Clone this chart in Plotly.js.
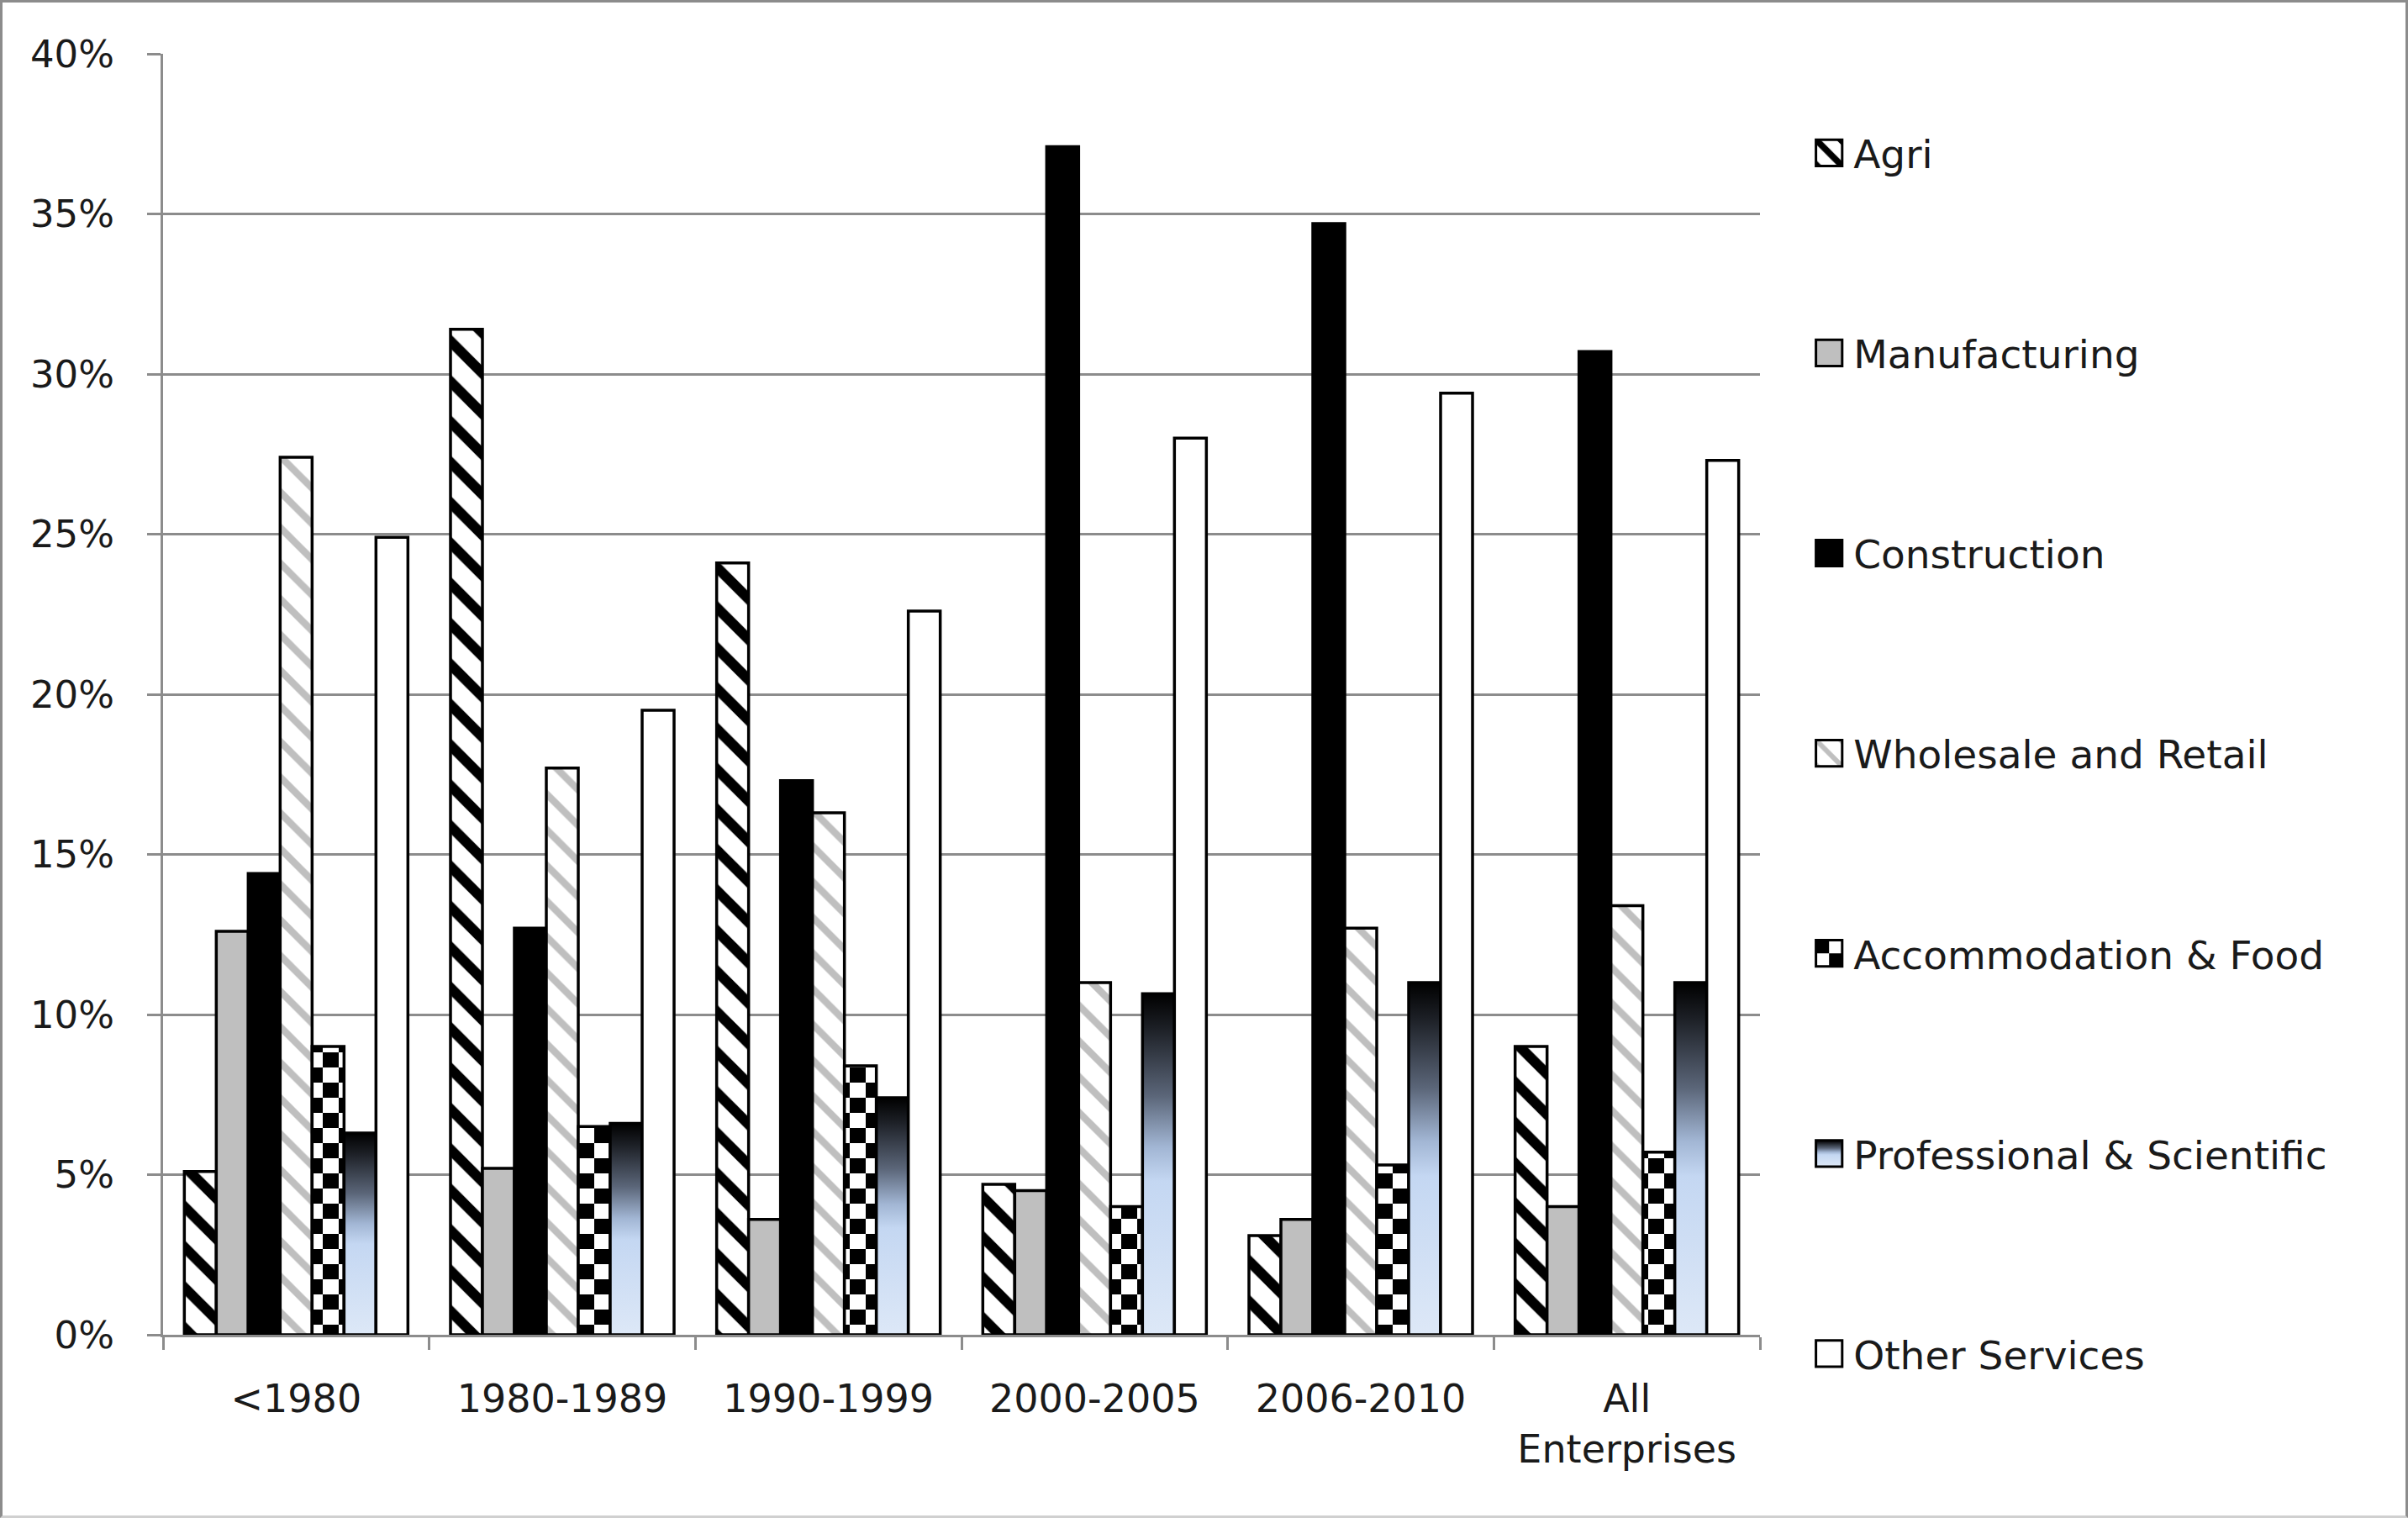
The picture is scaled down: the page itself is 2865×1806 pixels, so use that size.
<!DOCTYPE html>
<html>
<head>
<meta charset="utf-8">
<script src="https://cdn.plot.ly/plotly-3.0.1.min.js"></script>
<style>
  body { margin: 0; background: #fff; }
  #wrap { position: relative; width: 2865px; height: 1806px; }
  #chart { width: 2865px; height: 1806px; }
  #frame { position: absolute; left: 0; top: 0; width: 2865px; height: 1806px;
           box-sizing: border-box; border: 3px solid #8c8c8c; border-bottom-color: #d0d0d0;
           pointer-events: none; }
</style>
</head>
<body>
<div id="wrap">
  <div id="chart"></div>
  <div id="frame"></div>
</div>
<script>
// share of enterprises by sector, per founding period (percent)
var categories = ['&lt;1980', '1980-1989', '1990-1999', '2000-2005', '2006-2010', 'All<br>Enterprises'];
var agri = [5.1, 31.4, 24.1, 4.7, 3.1, 9.0];
var manufacturing = [12.6, 5.2, 3.6, 4.5, 3.6, 4.0];
var construction = [14.4, 12.7, 17.3, 37.1, 34.7, 30.7];
var wholesale = [27.4, 17.7, 16.3, 11.0, 12.7, 13.4];
var accommodation = [9.0, 6.5, 8.4, 4.0, 5.3, 5.7];
var professional = [6.3, 6.6, 7.4, 10.65, 11.0, 11.0];
var otherServices = [24.9, 19.5, 22.6, 28.0, 29.4, 27.3];

var outline = {color: '#000', width: 3.5};

function barTrace(name, y, marker, idx) {
    marker.line = outline;
    return {
        type: 'bar',
        name: name,
        x: categories,
        y: y,
        marker: marker,
        legendgroup: 'g' + idx,
        hoverinfo: 'name+y'
    };
}

var data = [
    barTrace('Agri', agri, {color: '#fff',
        pattern: {shape: '\\', fgcolor: '#000', bgcolor: '#fff', size: 34, solidity: 0.36}}, 0),
    barTrace('Manufacturing', manufacturing, {color: '#bfbfbf'}, 1),
    barTrace('Construction', construction, {color: '#000'}, 2),
    barTrace('Wholesale and Retail', wholesale, {color: '#fff',
        pattern: {shape: '\\', fgcolor: '#bfbfbf', bgcolor: '#fff', size: 30, solidity: 0.28}}, 3),
    barTrace('Accommodation &amp; Food', accommodation, {color: '#fff',
        pattern: {shape: '+', fgcolor: '#000', bgcolor: '#fff', size: 36, solidity: 0.5}}, 4),
    barTrace('Professional &amp; Scientific', professional, {color: '#c6d9f1'}, 5),
    barTrace('Other Services', otherServices, {color: '#fff'}, 6)
];

var family = 'DejaVu Sans, Verdana, sans-serif';
var ink = '#1a1a1a';

var layout = {
    width: 2865,
    height: 1806,
    paper_bgcolor: '#fff',
    plot_bgcolor: '#fff',
    font: {family: family, size: 44, color: ink},
    barmode: 'group',
    bargap: 0.16,
    bargroupgap: 0,
    showlegend: true,
    margin: {l: 194, r: 771, t: 64, b: 218, pad: 0},
    xaxis: {
        type: 'category',
        tickson: 'boundaries',
        ticks: 'outside',
        ticklen: 15,
        tickwidth: 3,
        tickcolor: '#8c8c8c',
        showline: true,
        linecolor: '#8c8c8c',
        linewidth: 3,
        showgrid: false,
        zeroline: false,
        ticklabelstandoff: 34,
        tickfont: {family: family, size: 46, color: ink}
    },
    yaxis: {
        range: [0, 40],
        dtick: 5,
        ticksuffix: '%',
        ticks: 'outside',
        ticklen: 16,
        tickwidth: 3,
        tickcolor: '#8c8c8c',
        showline: true,
        linecolor: '#8c8c8c',
        linewidth: 3,
        showgrid: true,
        gridcolor: '#8c8c8c',
        gridwidth: 3,
        zeroline: false,
        ticklabelstandoff: 30,
        tickfont: {family: family, size: 45, color: ink}
    },
    legend: {
        x: 1.028,
        xanchor: 'left',
        y: 0.947,
        yanchor: 'top',
        itemwidth: 48,
        tracegroupgap: 174,
        font: {family: family, size: 47, color: ink},
        bgcolor: 'rgba(0,0,0,0)'
    }
};

// checkerboard and gradient fills that the bar pattern set lacks
function addFills(gd) {
    var svg = gd.querySelector('svg.main-svg');
    if (!svg) return;
    var defs = svg.querySelector('defs');
    var ns = 'http://www.w3.org/2000/svg';
    if (!document.getElementById('profGrad')) {
        var grad = document.createElementNS(ns, 'linearGradient');
        grad.setAttribute('id', 'profGrad');
        grad.setAttribute('x1', '0'); grad.setAttribute('y1', '0');
        grad.setAttribute('x2', '0'); grad.setAttribute('y2', '1');
        [[0, '#000000'], [0.1, '#1c1f25'], [0.3, '#5b6679'], [0.45, '#a2b6d4'],
         [0.55, '#c4d7f2'], [1, '#dde8f7']].forEach(function (s) {
            var st = document.createElementNS(ns, 'stop');
            st.setAttribute('offset', s[0]);
            st.setAttribute('stop-color', s[1]);
            grad.appendChild(st);
        });
        defs.appendChild(grad);

        var pat = document.createElementNS(ns, 'pattern');
        pat.setAttribute('id', 'accChk');
        pat.setAttribute('patternUnits', 'userSpaceOnUse');
        pat.setAttribute('width', '38');
        pat.setAttribute('height', '36');
        [[0, 0, 38, 36, '#fff'], [0, 0, 19, 18, '#000'], [19, 18, 19, 18, '#000']].forEach(function (r) {
            var rc = document.createElementNS(ns, 'rect');
            rc.setAttribute('x', r[0]); rc.setAttribute('y', r[1]);
            rc.setAttribute('width', r[2]); rc.setAttribute('height', r[3]);
            rc.setAttribute('fill', r[4]);
            pat.appendChild(rc);
        });
        defs.appendChild(pat);

        var pat2 = document.createElementNS(ns, 'pattern');
        pat2.setAttribute('id', 'accChkSmall');
        pat2.setAttribute('patternUnits', 'objectBoundingBox');
        pat2.setAttribute('patternContentUnits', 'objectBoundingBox');
        pat2.setAttribute('width', '1');
        pat2.setAttribute('height', '1');
        [[0, 0, 1, 1, '#fff'], [0, 0, 0.5, 0.5, '#000'], [0.5, 0.5, 0.5, 0.5, '#000']].forEach(function (r) {
            var rc = document.createElementNS(ns, 'rect');
            rc.setAttribute('x', r[0]); rc.setAttribute('y', r[1]);
            rc.setAttribute('width', r[2]); rc.setAttribute('height', r[3]);
            rc.setAttribute('fill', r[4]);
            pat2.appendChild(rc);
        });
        defs.appendChild(pat2);
    }

    var traces = gd.querySelectorAll('.barlayer .trace');
    if (traces.length === 7) {
        traces[4].querySelectorAll('path').forEach(function (p) { p.style.fill = 'url(#accChk)'; });
        traces[5].querySelectorAll('path').forEach(function (p) { p.style.fill = 'url(#profGrad)'; });
    }

    var items = gd.querySelectorAll('.legend .traces');
    items.forEach(function (it, i) {
        var p = it.querySelector('.legendpoints path');
        if (!p) return;
        if (!p.dataset.scaled) {
            var t = p.getAttribute('transform') || '';
            p.setAttribute('transform', t + ' scale(2.6)');
            p.setAttribute('vector-effect', 'non-scaling-stroke');
            p.style.strokeWidth = '3px';
            p.dataset.scaled = '1';
        }
        if (i === 4) p.style.fill = 'url(#accChkSmall)';
        if (i === 5) p.style.fill = 'url(#profGrad)';
    });
}

Plotly.newPlot('chart', data, layout, {displayModeBar: false, staticPlot: true}).then(function (gd) {
    addFills(gd);
    gd.on('plotly_afterplot', function () { addFills(gd); });
});
</script>
</body>
</html>
